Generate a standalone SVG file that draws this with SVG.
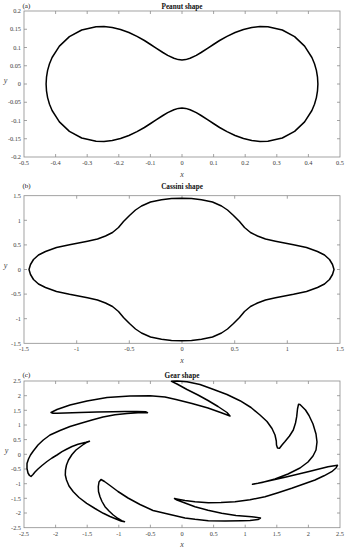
<svg xmlns="http://www.w3.org/2000/svg" width="350" height="550" viewBox="0 0 350 550">
<style>
.bg{fill:#fff}
.ax{fill:none;stroke:#8c8c8c;stroke-width:0.8}
.cv{fill:none;stroke:#000;stroke-width:1.5;stroke-linejoin:round}
.tl{font-family:"Liberation Serif","Times New Roman",serif;font-size:6.3px;fill:#3a3a3a}
.tx{text-anchor:middle}
.ty{text-anchor:end}
.ti{font-family:"Liberation Serif","Times New Roman",serif;font-size:7.2px;font-weight:bold;fill:#111;text-anchor:middle}
.pl{font-family:"Liberation Serif","Times New Roman",serif;font-size:7px;fill:#111}
.al{font-family:"Liberation Serif","Times New Roman",serif;font-size:8px;font-style:italic;fill:#444;text-anchor:middle}
</style>
<rect class="bg" x="0" y="0" width="350" height="550"/>

<g id="panel-a">
<rect class="ax" x="24" y="11" width="316" height="146"/>
<path class="ax" d="M55.6 157v-3M87.2 157v-3M118.8 157v-3M150.4 157v-3M182 157v-3M213.6 157v-3M245.2 157v-3M276.8 157v-3M308.4 157v-3M55.6 11v3M87.2 11v3M118.8 11v3M150.4 11v3M182 11v3M213.6 11v3M245.2 11v3M276.8 11v3M308.4 11v3M24 138.75h3M24 120.5h3M24 102.25h3M24 84h3M24 65.75h3M24 47.5h3M24 29.25h3M340 138.75h-3M340 120.5h-3M340 102.25h-3M340 84h-3M340 65.75h-3M340 47.5h-3M340 29.25h-3"/>
<g class="tl tx">
<text x="24" y="164.5">-0.5</text><text x="55.6" y="164.5">-0.4</text><text x="87.2" y="164.5">-0.3</text><text x="118.8" y="164.5">-0.2</text><text x="150.4" y="164.5">-0.1</text><text x="182" y="164.5">0</text><text x="213.6" y="164.5">0.1</text><text x="245.2" y="164.5">0.2</text><text x="276.8" y="164.5">0.3</text><text x="308.4" y="164.5">0.4</text><text x="340" y="164.5">0.5</text>
</g>
<g class="tl ty">
<text x="21" y="13.2">0.2</text><text x="21" y="31.4">0.15</text><text x="21" y="49.7">0.1</text><text x="21" y="67.9">0.05</text><text x="21" y="86.2">0</text><text x="21" y="104.4">-0.05</text><text x="21" y="122.7">-0.1</text><text x="21" y="140.9">-0.15</text><text x="21" y="159.2">-0.2</text>
</g>
<text class="ti" x="182" y="8.5">Peanut shape</text>
<text class="pl" x="22.5" y="7.8">(a)</text>
<text class="al" x="182" y="176.5">x</text>
<text class="al" x="5.5" y="83">y</text>
<path class="cv" d="M317.9 84L317.5 77.2L316.4 70.4L314.5 63.8L311.9 57.5L304.6 46.1L294.6 36.6L282.3 30L267.9 26.7L260 26.6L251.8 27.5L243.5 29.5L235.1 32.5L227 36.4L219.6 40.5L213.4 44.5L208.3 47.8L201.1 52.5L196.3 55.4L190.1 58.3L185.7 59.6L182 59.9L178.3 59.6L173.9 58.3L167.7 55.4L162.9 52.5L155.7 47.8L150.6 44.5L144.4 40.5L137 36.4L128.9 32.5L120.5 29.5L112.2 27.5L104 26.6L96.1 26.7L81.7 30L69.4 36.6L59.4 46.1L52.1 57.5L49.5 63.8L47.6 70.4L46.5 77.2L46.1 84L46.5 90.8L47.6 97.6L49.5 104.2L52.1 110.5L59.4 121.9L69.4 131.4L81.7 138L96.1 141.3L104 141.4L112.2 140.5L120.5 138.5L128.9 135.5L137 131.6L144.4 127.5L150.6 123.5L155.7 120.2L162.9 115.5L167.7 112.6L173.9 109.7L178.3 108.4L182 108.1L185.7 108.4L190.1 109.7L196.3 112.6L201.1 115.5L208.3 120.2L213.4 123.5L219.6 127.5L227 131.6L235.1 135.5L243.5 138.5L251.8 140.5L260 141.4L267.9 141.3L282.3 138L294.6 131.4L304.6 121.9L311.9 110.5L314.5 104.2L316.4 97.6L317.5 90.8Z"/>
</g>

<g id="panel-b">
<rect class="ax" x="24" y="195.7" width="316" height="147.6"/>
<path class="ax" d="M76.7 343.3v-3M129.3 343.3v-3M182 343.3v-3M234.7 343.3v-3M287.3 343.3v-3M76.7 195.7v3M129.3 195.7v3M182 195.7v3M234.7 195.7v3M287.3 195.7v3M24 220.3h3M24 244.9h3M24 269.5h3M24 294.1h3M24 318.7h3M340 220.3h-3M340 244.9h-3M340 269.5h-3M340 294.1h-3M340 318.7h-3"/>
<g class="tl tx">
<text x="24" y="350.8">-1.5</text><text x="76.7" y="350.8">-1</text><text x="129.3" y="350.8">-0.5</text><text x="182" y="350.8">0</text><text x="234.7" y="350.8">0.5</text><text x="287.3" y="350.8">1</text><text x="340" y="350.8">1.5</text>
</g>
<g class="tl ty">
<text x="21" y="197.9">1.5</text><text x="21" y="222.5">1</text><text x="21" y="247.1">0.5</text><text x="21" y="271.7">0</text><text x="21" y="296.3">-0.5</text><text x="21" y="320.9">-1</text><text x="21" y="345.5">-1.5</text>
</g>
<text class="ti" x="182" y="188.5">Cassini shape</text>
<text class="pl" x="22.5" y="187.5">(b)</text>
<text class="al" x="182" y="362.8">x</text>
<text class="al" x="5.5" y="268">y</text>
<path class="cv" transform="translate(0.5,0)" d="M333.5 269.5L332 264.5L329 259.5L324 255L317 251.5L306 247.5L293 244.7L284 243L275 241.2L265 239L257 236L250 232.5L244 227.5L239 221.5L233 215.5L227 210L221 206L212 202L201 199.7L191 198.5L181 198.2L171 198.5L161 199.7L150 202L141 206L135 210L129 215.5L123 221.5L118 227.5L112 232.5L105 236L97 239L87 241.2L78 243L69 244.7L56 247.5L45 251.5L38 255L33 259.5L30 264.5L28.5 269.5L30 274.5L33 279.5L38 284L45 287.5L56 291.5L69 294.3L78 296L87 297.8L97 300L105 303L112 306.5L118 311.5L123 317.5L129 323.5L135 329L141 333L150 337L161 339.3L171 340.5L181 340.8L191 340.5L201 339.3L212 337L221 333L227 329L233 323.5L239 317.5L244 311.5L250 306.5L257 303L265 300L275 297.8L284 296L293 294.3L306 291.5L317 287.5L324 284L329 279.5L332 274.5Z"/>
</g>

<g id="panel-c">
<rect class="ax" x="24" y="381" width="316" height="146.7"/>
<path class="ax" d="M55.6 527.7v-3M87.2 527.7v-3M118.8 527.7v-3M150.4 527.7v-3M182 527.7v-3M213.6 527.7v-3M245.2 527.7v-3M276.8 527.7v-3M308.4 527.7v-3M55.6 381v3M87.2 381v3M118.8 381v3M150.4 381v3M182 381v3M213.6 381v3M245.2 381v3M276.8 381v3M308.4 381v3M24 395.7h3M24 410.3h3M24 425h3M24 439.6h3M24 454.3h3M24 469h3M24 483.7h3M24 498.3h3M24 513h3M340 395.7h-3M340 410.3h-3M340 425h-3M340 439.6h-3M340 454.3h-3M340 469h-3M340 483.7h-3M340 498.3h-3M340 513h-3"/>
<g class="tl tx">
<text x="24" y="535.7">-2.5</text><text x="55.6" y="535.7">-2</text><text x="87.2" y="535.7">-1.5</text><text x="118.8" y="535.7">-1</text><text x="150.4" y="535.7">-0.5</text><text x="182" y="535.7">0</text><text x="213.6" y="535.7">0.5</text><text x="245.2" y="535.7">1</text><text x="276.8" y="535.7">1.5</text><text x="308.4" y="535.7">2</text><text x="340" y="535.7">2.5</text>
</g>
<g class="tl ty">
<text x="21" y="383.2">2.5</text><text x="21" y="397.9">2</text><text x="21" y="412.5">1.5</text><text x="21" y="427.2">1</text><text x="21" y="441.8">0.5</text><text x="21" y="456.5">0</text><text x="21" y="471.2">-0.5</text><text x="21" y="485.9">-1</text><text x="21" y="500.5">-1.5</text><text x="21" y="515.2">-2</text><text x="21" y="529.9">-2.5</text>
</g>
<text class="ti" x="182" y="378.3">Gear shape</text>
<text class="pl" x="22.5" y="377.3">(c)</text>
<text class="al" x="182" y="547">x</text>
<text class="al" x="6.5" y="453">y</text>
<path class="cv" d="M51 412.5L57 409.5L70 405L87 401L107 397.5L130 396L150 395.7L165 397L176 399.5L192 403.5L208 408L222 413L230 416L227 412.5L218 406.5L208 400.5L198 395L187 389.5L177 384L171.5 381.3L177 381L187 381.8L200 384.5L213 389.3L227 394.5L240 400.7L251 407.5L260 415L267 421.5L272 428.5L275 435L276.3 441L276.5 445L277.5 448L279.5 448.3L282 445L285 441.5L289.5 436L293.3 430L295.5 423L296.7 416.7L297.5 409L298.5 404.3L300 404.5L302 406.5L305.5 410L309 415.5L313 424L316 434L317 442L316 450L313 456L308 462L300 468L288 474L275 479L262 482.5L252.5 484.3L258 483.3L266 481.5L285 477.3L308 471.7L328 466.7L337.5 465.3L336 468L331.7 471.7L324 475.8L315 480L303 484.3L291.7 488.3L278 492.7L265 496.7L250 499.7L235 501.7L221 502.6L208.3 502.7L195 501.8L185 500.5L178 499.2L174.5 498.5L177 500L185 503L195 506.7L208 510.3L221.7 513.3L236 515.5L251.7 516.7L260.5 518L258 519.5L250 520.4L241.7 520.7L225 521L208.3 520.7L195 519.3L185 518L170 514.5L153 510.5L140 504.5L128 498L118 491.5L110 485.5L104.5 481.5L101 479.5L99 482L98.3 486.7L98.5 491.5L100 496.7L102 501.5L105 506.7L109 511L113.3 515L118 518.5L121.7 520.7L124.5 521.8L121 521L116.7 519.3L110 516.5L103.3 513.3L95 508.5L86.7 503.3L79 497.5L73.3 491.7L69 486L66.5 480L65.3 475L65.5 470L66.5 465L68.5 460L72 454.5L76 450L80 447L84 444L87 442.2L89.5 441.2L86 442.3L82 443.2L78 444.3L72 446.5L67 449L62 451.7L57 455L52 458L47 461.5L42 465.5L38 469L35 472L33 474.5L31 476.5L29.5 475.5L28 473L27 468.5L27 463.5L28.5 459L30.5 455L33.3 451L38 445L43.3 440L50 435L60 430.5L70 426.5L80 423.5L92 420L103 417L115 414.8L127 413.5L138 412.8L147.5 412.7L146 411.8L137 411.4L125 411.5L113 411.7L97 412L80 412.5L65 413L57 413.3L53 413.2Z"/>
</g>
</svg>
